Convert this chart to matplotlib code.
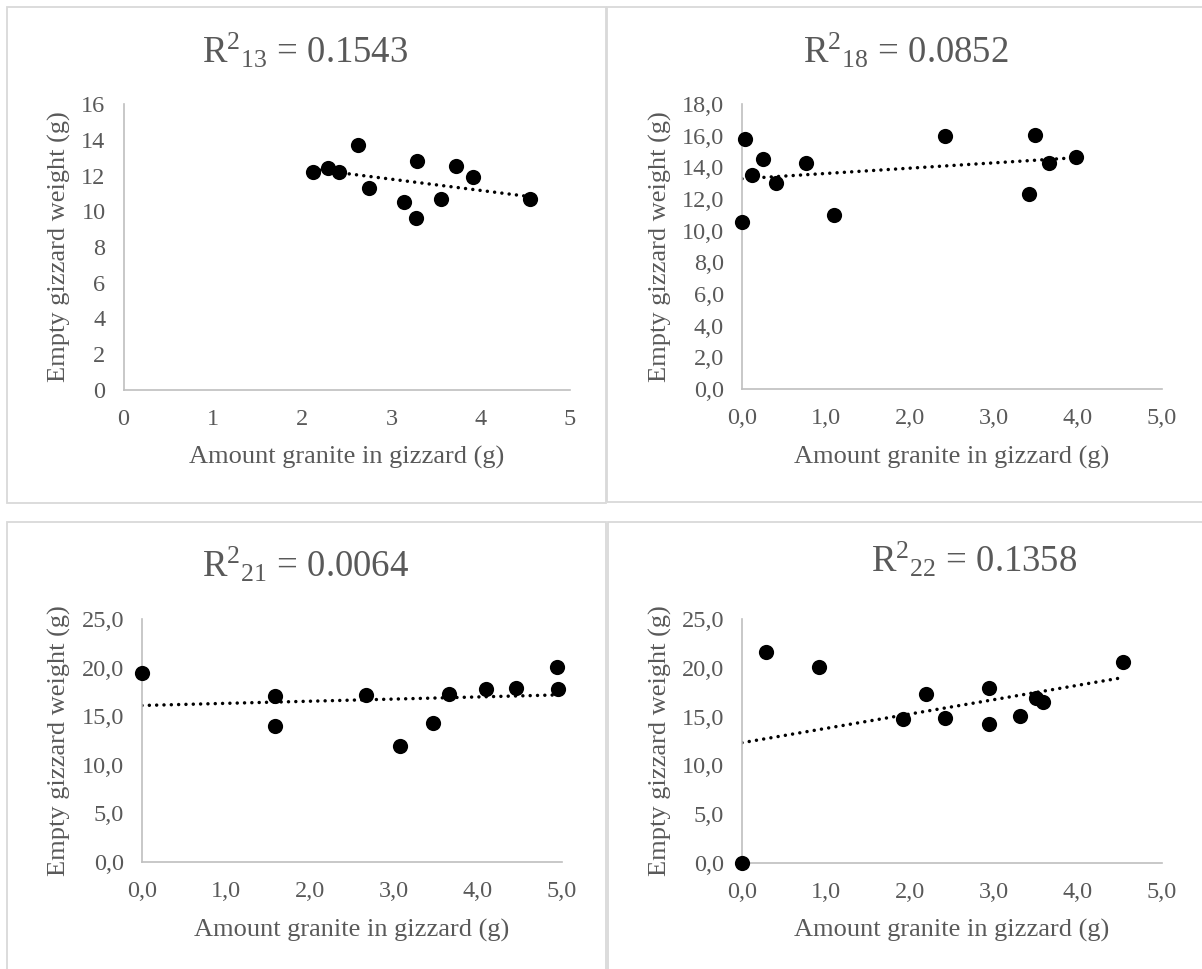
import numpy as np
import matplotlib
matplotlib.use('Agg')
import matplotlib.pyplot as plt
from matplotlib.patches import Rectangle
from matplotlib.ticker import FuncFormatter, MultipleLocator

plt.rcParams['font.family'] = ['Liberation Serif', 'DejaVu Serif']
plt.rcParams['mathtext.fontset'] = 'custom'
plt.rcParams['mathtext.rm'] = 'Liberation Serif'
plt.rcParams['mathtext.it'] = 'Liberation Serif:italic'

# data
x13 = [2.12, 2.29, 2.41, 2.63, 2.75, 3.14, 3.28, 3.29, 3.56, 3.72, 3.91, 4.55]
y13 = [12.19, 12.42, 12.19, 13.70, 11.30, 10.49, 9.60, 12.79, 10.70, 12.51, 11.89, 10.70]

x18 = [0.04, 0.00, 0.12, 0.25, 0.40, 0.76, 1.10, 2.42, 3.42, 3.49, 3.66, 3.98]
y18 = [15.81, 10.57, 13.54, 14.53, 13.01, 14.25, 10.99, 15.96, 12.32, 16.04, 14.25, 14.65]

x21 = [0.00, 1.58, 1.58, 2.67, 3.07, 3.46, 3.65, 4.09, 4.45, 4.94, 4.95]
y21 = [19.40, 17.10, 13.98, 17.17, 11.98, 14.32, 17.24, 17.75, 17.92, 20.02, 17.82]

x22 = [0.00, 0.28, 0.92, 1.92, 2.19, 2.42, 2.94, 2.94, 3.31, 3.50, 3.58, 4.53]
y22 = [0.00, 21.62, 20.05, 14.80, 17.29, 14.90, 17.94, 14.22, 15.07, 16.88, 16.54, 20.57]

titles = [r'$\mathrm{R}^{2}{}_{13}$ = 0.1543', r'$\mathrm{R}^{2}{}_{18}$ = 0.0852',
          r'$\mathrm{R}^{2}{}_{21}$ = 0.0064', r'$\mathrm{R}^{2}{}_{22}$ = 0.1358']
ymax = [16, 18, 25, 25]
ystep = [2, 2, 5, 5]
comma = [False, True, True, True]

W, H = 1202, 969
fig = plt.figure(figsize=(W / 100, H / 100), dpi=100)
grey = '#595959'

# chart boxes (pixels: x0, y0, x1, y1)
boxes = [(7, 7, 606, 503), (607, 7, 1215, 502), (7, 522, 606, 980), (608, 522, 1215, 980)]
for x0, y0, x1, y1 in boxes:
    fig.patches.append(Rectangle((x0 / W, 1 - y1 / H), (x1 - x0) / W, (y1 - y0) / H,
                                 transform=fig.transFigure, fill=False,
                                 edgecolor='#D9D9D9', linewidth=1.3))

# plot areas (pixels: left, top, right, bottom)
areas = [(123.6, 104, 570, 390), (742, 104, 1162, 389), (142, 619, 562, 862), (742, 619, 1162, 863)]
title_pos = [(305, 63), (906, 63), (306, 577), (974, 572)]
ylab_x = [59, 660, 59, 660]
xlab_y = [457, 457, 930, 930]

data = [(x13, y13), (x18, y18), (x21, y21), (x22, y22)]

for i, (xs, ys) in enumerate(data):
    l, t, r, b = areas[i]
    ax = fig.add_axes([l / W, 1 - b / H, (r - l) / W, (b - t) / H])
    xs = np.array(xs)
    ys = np.array(ys)

    # linear trendline over the data range
    k, c = np.polyfit(xs, ys, 1)
    xx = np.array([xs.min(), xs.max()])
    ax.plot(xx, k * xx + c, color='black', linewidth=2.5,
            linestyle=(0, (0.01, 2.1)), dash_capstyle='round', zorder=2)
    ax.scatter(xs, ys, s=120, color='black', zorder=3, clip_on=False, linewidths=0)

    ax.set_xlim(0, 5)
    ax.set_ylim(0, ymax[i])
    ax.xaxis.set_major_locator(MultipleLocator(1))
    ax.yaxis.set_major_locator(MultipleLocator(ystep[i]))
    if comma[i]:
        fmt = FuncFormatter(lambda v, p: f'{v:.1f}'.replace('.', ','))
        ax.xaxis.set_major_formatter(fmt)
        ax.yaxis.set_major_formatter(fmt)
    else:
        ax.xaxis.set_major_formatter(FuncFormatter(lambda v, p: f'{v:.0f}'))
        ax.yaxis.set_major_formatter(FuncFormatter(lambda v, p: f'{v:.0f}'))

    for s in ['top', 'right']:
        ax.spines[s].set_visible(False)
    for s in ['left', 'bottom']:
        ax.spines[s].set_color('#BFBFBF')
        ax.spines[s].set_linewidth(1.2)
    ax.tick_params(length=0, labelsize=17.5, labelcolor=grey)
    ax.tick_params(axis='y', pad=13)
    ax.tick_params(axis='x', pad=14)

    tx, ty = title_pos[i]
    fig.text(tx / W, 1 - ty / H, titles[i], fontsize=26.5, color=grey, ha='center', va='baseline')
    fig.text(ylab_x[i] / W, 1 - ((t + b) / 2) / H, 'Empty gizzard weight (g)',
             rotation=90, fontsize=19, color=grey, ha='center', va='center')
    fig.text(((l + r) / 2) / W, 1 - xlab_y[i] / H, 'Amount granite in gizzard (g)',
             fontsize=19, color=grey, ha='center', va='center')

fig.savefig('out.png', dpi=100, facecolor='white')
